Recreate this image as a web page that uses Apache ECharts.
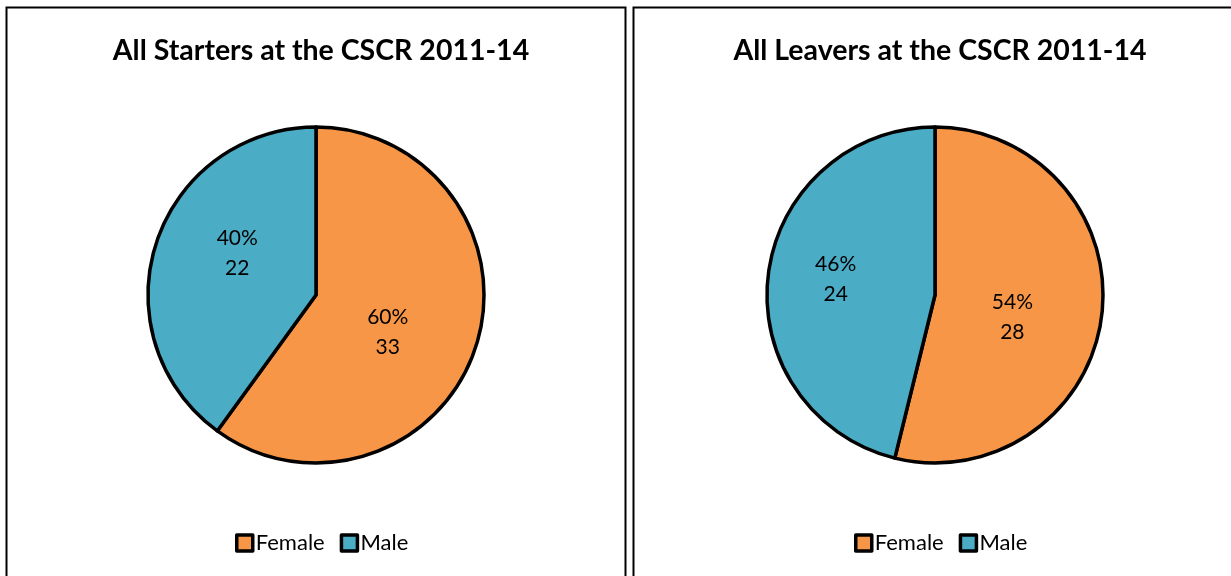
<!DOCTYPE html>
<html>
<head>
<meta charset="utf-8">
<script src="https://cdn.jsdelivr.net/npm/echarts@6/dist/echarts.min.js"></script>
<style>
  html, body { margin: 0; padding: 0; background: #fff; }
  #chart { width: 1231px; height: 576px; }
</style>
</head>
<body>
<div id="chart"></div>
<script>
// Gender split of starters and leavers
const categories = ['Female', 'Male'];
const starters = [33, 22];
const leavers = [28, 24];
const titles = ['All Starters at the CSCR 2011-14', 'All Leavers at the CSCR 2011-14'];
const colors = ['#F79646', '#4BACC6'];

const FONT = 'Lato, "Open Sans", sans-serif';
const chart = echarts.init(document.getElementById('chart'), null, { renderer: 'canvas' });

// per-slice nudges of the inner labels
const labelShift = [
  [[-11, 10], [4, -15]],
  [[-9, 12], [-13, -5]]
];

function pieSeries(values, cx, k) {
  return {
    type: 'pie',
    center: [cx, 295],
    radius: 168,
    startAngle: 90,
    clockwise: true,
    percentPrecision: 0,
    silent: true,
    data: categories.map((name, i) => ({ name, value: values[i], itemStyle: { color: colors[i] } })),
    itemStyle: { borderColor: '#000', borderWidth: 3.5 },
    label: {
      position: 'inner',
      formatter: '{d}%\n{c}',
      color: '#000',
      fontSize: 21,
      lineHeight: 30,
      fontFamily: FONT
    },
    labelLayout: function (p) {
      const s = labelShift[k][p.dataIndex];
      return { dx: s[0], dy: s[1] };
    },
    labelLine: { show: false }
  };
}

function legend(left, idx) {
  return {
    seriesIndex: idx,
    data: categories,
    left: left,
    top: 527,
    itemWidth: 16,
    itemHeight: 16,
    itemGap: 15,
    icon: 'rect',
    itemStyle: { borderColor: '#000', borderWidth: 3.5, borderJoin: 'round' },
    textStyle: { fontSize: 22, fontFamily: FONT, color: '#000', padding: [0, 0, 0, -2] }
  };
}

chart.setOption({
  animation: false,
  title: [
    { text: titles[0], left: 316, top: 31, textAlign: 'center',
      textStyle: { fontSize: 28.5, fontWeight: 'bold', fontFamily: FONT, color: '#000' } },
    { text: titles[1], left: 935, top: 31, textAlign: 'center',
      textStyle: { fontSize: 28.5, fontWeight: 'bold', fontFamily: FONT, color: '#000' } }
  ],
  legend: [legend(230, 0), legend(849, 1)],
  graphic: [
    { type: 'rect', shape: { x: 6.5, y: 7.5, width: 619, height: 600 },
      style: { fill: 'none', stroke: '#000', lineWidth: 2 }, silent: true },
    { type: 'rect', shape: { x: 633.5, y: 7.5, width: 650, height: 600 },
      style: { fill: 'none', stroke: '#000', lineWidth: 2 }, silent: true }
  ],
  series: [pieSeries(starters, 316, 0), pieSeries(leavers, 935, 1)]
});
</script>
</body>
</html>
